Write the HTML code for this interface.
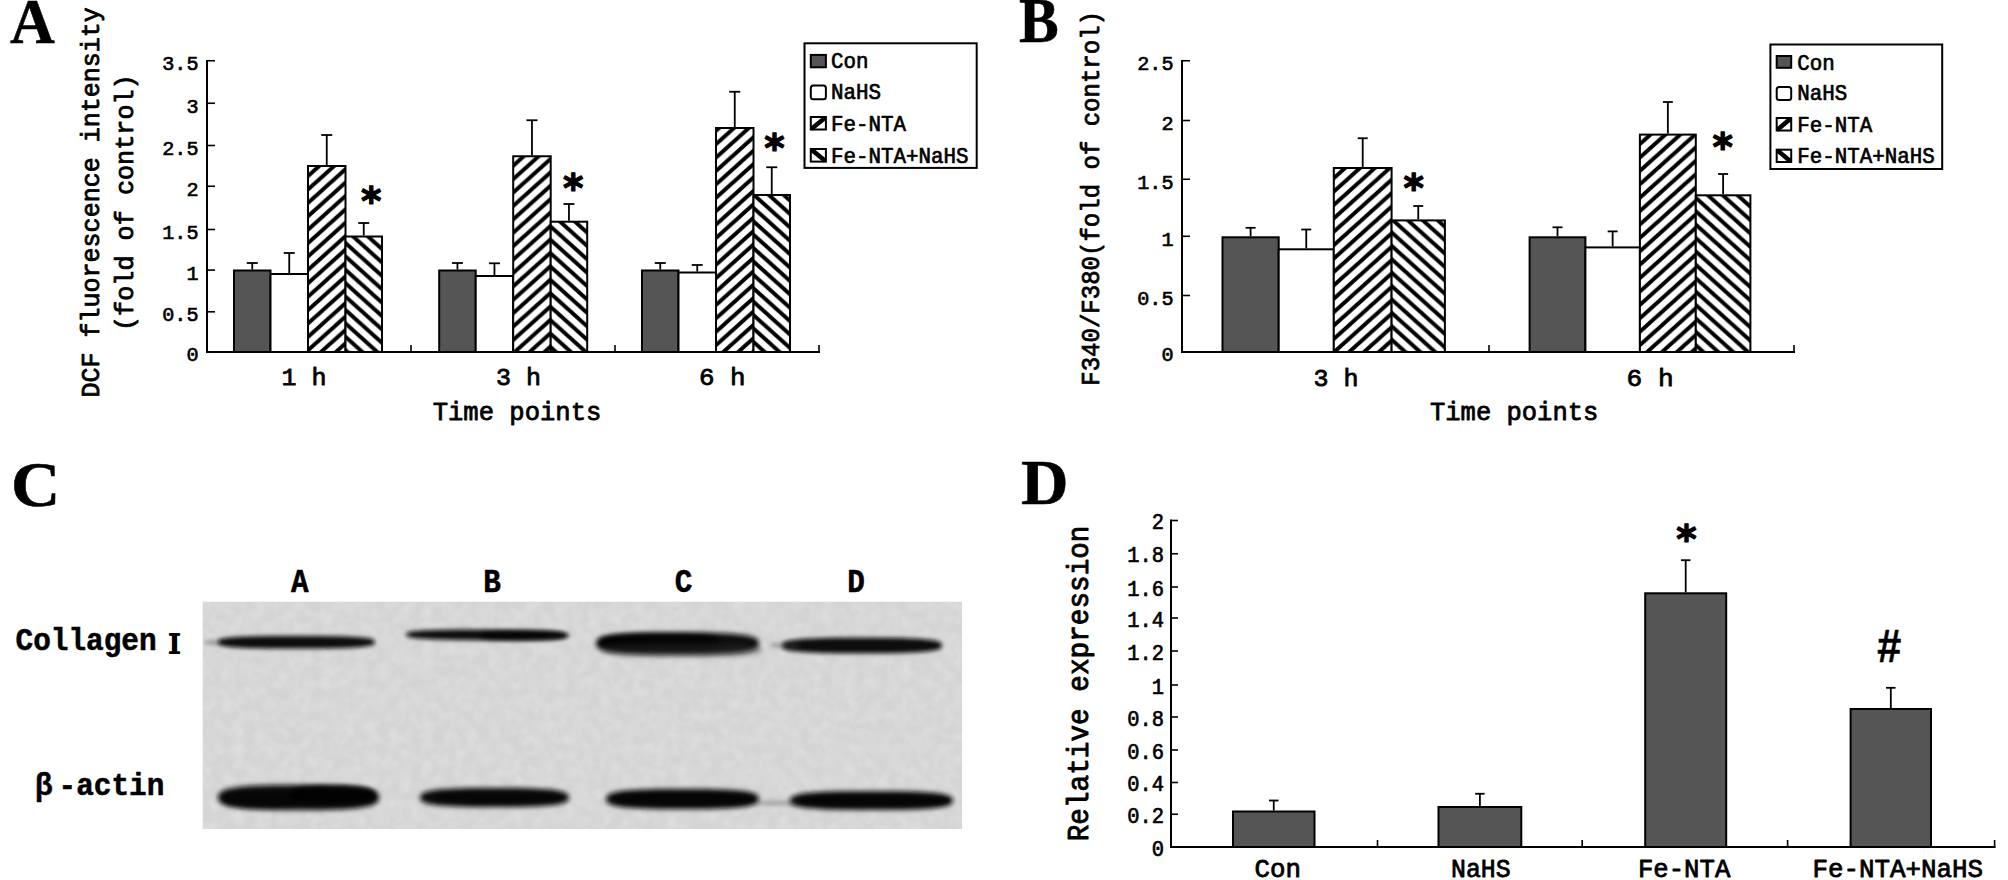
<!DOCTYPE html>
<html lang="en"><head><meta charset="utf-8"><title>Figure</title>
<style>html,body{margin:0;padding:0;background:#fff;overflow:hidden}svg{display:block}text{fill:#000;stroke:#000;stroke-width:0.5px;stroke-linejoin:round}</style>
</head><body>
<svg width="2008" height="880" viewBox="0 0 2008 880">
<defs>
<pattern id="h1" patternUnits="userSpaceOnUse" width="14.9" height="13.4" x="3" y="8.2"><rect width="14.9" height="13.4" fill="#fff"/><path d="M-14.9,26.8 L29.8,-13.4 M-29.8,26.8 L14.9,-13.4 M0,26.8 L44.7,-13.4" stroke="#000" stroke-width="4.0"/></pattern>
<pattern id="h2" patternUnits="userSpaceOnUse" width="14.9" height="13.4" x="3" y="2"><rect width="14.9" height="13.4" fill="#fff"/><path d="M-14.9,-13.4 L29.8,26.8 M-29.8,-13.4 L14.9,26.8 M0,-13.4 L44.7,26.8" stroke="#000" stroke-width="4.0"/></pattern>
<filter id="bl3" x="-20%" y="-100%" width="140%" height="300%"><feGaussianBlur stdDeviation="2.6"/></filter>
<filter id="bl2" x="-20%" y="-100%" width="140%" height="300%"><feGaussianBlur stdDeviation="1.9"/></filter>
<filter id="noise" x="0" y="0" width="100%" height="100%"><feTurbulence type="fractalNoise" baseFrequency="0.09" numOctaves="2" seed="7" result="n"/><feColorMatrix in="n" type="matrix" values="0 0 0 0 0.83  0 0 0 0 0.83  0 0 0 0 0.83  0.55 0.55 0 0 -0.42" result="m"/><feComposite in="m" in2="SourceGraphic" operator="in"/></filter>
<clipPath id="blotclip"><rect x="202.5" y="601.5" width="759.5" height="227.5"/></clipPath>
</defs>
<rect width="2008" height="880" fill="#fff"/>
<text transform="translate(10.00,42.50) scale(1,1.0219)" font-family='"Liberation Serif", "DejaVu Serif", serif' font-size="62.00" font-weight="bold" text-anchor="start" >A</text>
<text transform="translate(1019.00,42.00) scale(0.96,1.0096)" font-family='"Liberation Serif", "DejaVu Serif", serif' font-size="62.00" font-weight="bold" text-anchor="start" >B</text>
<text transform="translate(11.00,506.00) scale(1.1,1.0219)" font-family='"Liberation Serif", "DejaVu Serif", serif' font-size="62.00" font-weight="bold" text-anchor="start" >C</text>
<text transform="translate(1021.00,503.50) scale(1.06,1.0096)" font-family='"Liberation Serif", "DejaVu Serif", serif' font-size="62.00" font-weight="bold" text-anchor="start" >D</text>
<line x1="207.00" y1="60.00" x2="207.00" y2="353.00" stroke="#000" stroke-width="2"/>
<line x1="206.00" y1="352.00" x2="820.00" y2="352.00" stroke="#000" stroke-width="2"/>
<line x1="207.00" y1="351.90" x2="215.00" y2="351.90" stroke="#000" stroke-width="1.6"/>
<line x1="207.00" y1="311.80" x2="215.00" y2="311.80" stroke="#000" stroke-width="1.6"/>
<line x1="207.00" y1="270.10" x2="215.00" y2="270.10" stroke="#000" stroke-width="1.6"/>
<line x1="207.00" y1="229.50" x2="215.00" y2="229.50" stroke="#000" stroke-width="1.6"/>
<line x1="207.00" y1="186.25" x2="215.00" y2="186.25" stroke="#000" stroke-width="1.6"/>
<line x1="207.00" y1="145.50" x2="215.00" y2="145.50" stroke="#000" stroke-width="1.6"/>
<line x1="207.00" y1="103.25" x2="215.00" y2="103.25" stroke="#000" stroke-width="1.6"/>
<line x1="207.00" y1="60.75" x2="215.00" y2="60.75" stroke="#000" stroke-width="1.6"/>
<line x1="411.00" y1="352.00" x2="411.00" y2="345.00" stroke="#000" stroke-width="1.6"/>
<line x1="615.00" y1="352.00" x2="615.00" y2="345.00" stroke="#000" stroke-width="1.6"/>
<line x1="819.00" y1="352.00" x2="819.00" y2="345.00" stroke="#000" stroke-width="1.6"/>
<text transform="translate(198.50,361.40) scale(1,1.0218)" font-family='"Liberation Mono", "DejaVu Sans Mono", monospace' font-size="20.17" font-weight="normal" text-anchor="end"  style="stroke-width:0.63px">0</text>
<text transform="translate(198.50,321.30) scale(1,1.0218)" font-family='"Liberation Mono", "DejaVu Sans Mono", monospace' font-size="20.17" font-weight="normal" text-anchor="end"  style="stroke-width:0.63px">0.5</text>
<text transform="translate(198.50,279.60) scale(1,1.0218)" font-family='"Liberation Mono", "DejaVu Sans Mono", monospace' font-size="20.17" font-weight="normal" text-anchor="end"  style="stroke-width:0.63px">1</text>
<text transform="translate(198.50,239.00) scale(1,1.0218)" font-family='"Liberation Mono", "DejaVu Sans Mono", monospace' font-size="20.17" font-weight="normal" text-anchor="end"  style="stroke-width:0.63px">1.5</text>
<text transform="translate(198.50,195.75) scale(1,1.0218)" font-family='"Liberation Mono", "DejaVu Sans Mono", monospace' font-size="20.17" font-weight="normal" text-anchor="end"  style="stroke-width:0.63px">2</text>
<text transform="translate(198.50,155.00) scale(1,1.0218)" font-family='"Liberation Mono", "DejaVu Sans Mono", monospace' font-size="20.17" font-weight="normal" text-anchor="end"  style="stroke-width:0.63px">2.5</text>
<text transform="translate(198.50,112.75) scale(1,1.0218)" font-family='"Liberation Mono", "DejaVu Sans Mono", monospace' font-size="20.17" font-weight="normal" text-anchor="end"  style="stroke-width:0.63px">3</text>
<text transform="translate(198.50,70.25) scale(1,1.0218)" font-family='"Liberation Mono", "DejaVu Sans Mono", monospace' font-size="20.17" font-weight="normal" text-anchor="end"  style="stroke-width:0.63px">3.5</text>
<line x1="252.25" y1="263.00" x2="252.25" y2="269.50" stroke="#000" stroke-width="1.8"/>
<line x1="246.75" y1="263.00" x2="257.75" y2="263.00" stroke="#000" stroke-width="1.8"/>
<rect x="234.00" y="270.50" width="36.50" height="81.50" fill="#555555" stroke="#000" stroke-width="2"/>
<line x1="289.25" y1="253.00" x2="289.25" y2="273.00" stroke="#000" stroke-width="1.8"/>
<line x1="283.75" y1="253.00" x2="294.75" y2="253.00" stroke="#000" stroke-width="1.8"/>
<rect x="270.50" y="274.00" width="37.50" height="78.00" fill="#ffffff" stroke="#000" stroke-width="2"/>
<line x1="326.75" y1="135.00" x2="326.75" y2="165.00" stroke="#000" stroke-width="1.8"/>
<line x1="321.25" y1="135.00" x2="332.25" y2="135.00" stroke="#000" stroke-width="1.8"/>
<rect x="308.00" y="166.00" width="37.50" height="186.00" fill="url(#h1)" stroke="#000" stroke-width="2"/>
<line x1="363.75" y1="223.00" x2="363.75" y2="235.50" stroke="#000" stroke-width="1.8"/>
<line x1="358.25" y1="223.00" x2="369.25" y2="223.00" stroke="#000" stroke-width="1.8"/>
<rect x="345.50" y="236.50" width="36.50" height="115.50" fill="url(#h2)" stroke="#000" stroke-width="2"/>
<line x1="457.45" y1="263.00" x2="457.45" y2="269.50" stroke="#000" stroke-width="1.8"/>
<line x1="451.95" y1="263.00" x2="462.95" y2="263.00" stroke="#000" stroke-width="1.8"/>
<rect x="439.20" y="270.50" width="36.50" height="81.50" fill="#555555" stroke="#000" stroke-width="2"/>
<line x1="494.45" y1="263.30" x2="494.45" y2="275.00" stroke="#000" stroke-width="1.8"/>
<line x1="488.95" y1="263.30" x2="499.95" y2="263.30" stroke="#000" stroke-width="1.8"/>
<rect x="475.70" y="276.00" width="37.50" height="76.00" fill="#ffffff" stroke="#000" stroke-width="2"/>
<line x1="531.95" y1="120.25" x2="531.95" y2="155.25" stroke="#000" stroke-width="1.8"/>
<line x1="526.45" y1="120.25" x2="537.45" y2="120.25" stroke="#000" stroke-width="1.8"/>
<rect x="513.20" y="156.25" width="37.50" height="195.75" fill="url(#h1)" stroke="#000" stroke-width="2"/>
<line x1="568.95" y1="204.00" x2="568.95" y2="220.70" stroke="#000" stroke-width="1.8"/>
<line x1="563.45" y1="204.00" x2="574.45" y2="204.00" stroke="#000" stroke-width="1.8"/>
<rect x="550.70" y="221.70" width="36.50" height="130.30" fill="url(#h2)" stroke="#000" stroke-width="2"/>
<line x1="660.25" y1="263.00" x2="660.25" y2="269.50" stroke="#000" stroke-width="1.8"/>
<line x1="654.75" y1="263.00" x2="665.75" y2="263.00" stroke="#000" stroke-width="1.8"/>
<rect x="642.00" y="270.50" width="36.50" height="81.50" fill="#555555" stroke="#000" stroke-width="2"/>
<line x1="697.25" y1="265.00" x2="697.25" y2="271.50" stroke="#000" stroke-width="1.8"/>
<line x1="691.75" y1="265.00" x2="702.75" y2="265.00" stroke="#000" stroke-width="1.8"/>
<rect x="678.50" y="272.50" width="37.50" height="79.50" fill="#ffffff" stroke="#000" stroke-width="2"/>
<line x1="734.75" y1="91.75" x2="734.75" y2="127.00" stroke="#000" stroke-width="1.8"/>
<line x1="729.25" y1="91.75" x2="740.25" y2="91.75" stroke="#000" stroke-width="1.8"/>
<rect x="716.00" y="128.00" width="37.50" height="224.00" fill="url(#h1)" stroke="#000" stroke-width="2"/>
<line x1="771.75" y1="167.25" x2="771.75" y2="194.00" stroke="#000" stroke-width="1.8"/>
<line x1="766.25" y1="167.25" x2="777.25" y2="167.25" stroke="#000" stroke-width="1.8"/>
<rect x="753.50" y="195.00" width="36.50" height="157.00" fill="url(#h2)" stroke="#000" stroke-width="2"/>
<text x="371.30" y="214.50" font-family='"DejaVu Sans", "Liberation Sans", sans-serif' font-size="39" font-weight="bold" text-anchor="middle" style="stroke-width:1.2px">*</text>
<text x="573.30" y="201.50" font-family='"DejaVu Sans", "Liberation Sans", sans-serif' font-size="39" font-weight="bold" text-anchor="middle" style="stroke-width:1.2px">*</text>
<text x="774.50" y="161.50" font-family='"DejaVu Sans", "Liberation Sans", sans-serif' font-size="39" font-weight="bold" text-anchor="middle" style="stroke-width:1.2px">*</text>
<text transform="translate(281.50,385.00) scale(1,0.9697)" font-family='"Liberation Mono", "DejaVu Sans Mono", monospace' font-size="25.00" font-weight="normal" text-anchor="start" xml:space="preserve" style="stroke-width:0.78px">1 h</text>
<text transform="translate(496.00,385.00) scale(1,0.9697)" font-family='"Liberation Mono", "DejaVu Sans Mono", monospace' font-size="25.00" font-weight="normal" text-anchor="start" xml:space="preserve" style="stroke-width:0.78px">3 h</text>
<text transform="translate(699.00,385.00) scale(1,0.9384)" font-family='"Liberation Mono", "DejaVu Sans Mono", monospace' font-size="25.83" font-weight="normal" text-anchor="start" xml:space="preserve" style="stroke-width:0.80px">6 h</text>
<text transform="translate(432.70,419.50) scale(1,0.9785)" font-family='"Liberation Mono", "DejaVu Sans Mono", monospace' font-size="25.55" font-weight="normal" text-anchor="start"  style="stroke-width:0.79px">Time points</text>
<text transform="translate(98.75,397.50) rotate(-90) scale(1,1.0592)" font-family='"Liberation Mono", "DejaVu Sans Mono", monospace' font-size="25.03" font-weight="normal" text-anchor="start"  style="stroke-width:0.78px">DCF fluorescence intensity</text>
<text transform="translate(132.50,331.00) rotate(-90) scale(1,1.0536)" font-family='"Liberation Mono", "DejaVu Sans Mono", monospace' font-size="25.17" font-weight="normal" text-anchor="start"  style="stroke-width:0.78px">(fold of control)</text>
<rect x="804.50" y="43.30" width="172.20" height="124.60" fill="#fff" stroke="#000" stroke-width="2"/>
<rect x="810.80" y="54.90" width="15.10" height="12.40" rx="0" fill="#555555" stroke="#000" stroke-width="2"/>
<text transform="translate(831.00,68.30) scale(1,1.0400)" font-family='"Liberation Mono", "DejaVu Sans Mono", monospace' font-size="20.83" font-weight="normal" text-anchor="start"  style="stroke-width:0.65px">Con</text>
<rect x="810.80" y="85.50" width="15.10" height="13.70" rx="2.5" fill="#ffffff" stroke="#000" stroke-width="2"/>
<text transform="translate(831.00,99.20) scale(1,1.0400)" font-family='"Liberation Mono", "DejaVu Sans Mono", monospace' font-size="20.83" font-weight="normal" text-anchor="start"  style="stroke-width:0.65px">NaHS</text>
<rect x="810.80" y="117.00" width="15.10" height="12.50" rx="0" fill="#fff" stroke="#000" stroke-width="2"/>
<path d="M811.30,129.00 L825.40,117.50" stroke="#000" stroke-width="4.5"/>
<text transform="translate(831.00,130.50) scale(1,1.0400)" font-family='"Liberation Mono", "DejaVu Sans Mono", monospace' font-size="20.83" font-weight="normal" text-anchor="start"  style="stroke-width:0.65px">Fe-NTA</text>
<rect x="810.80" y="149.00" width="15.10" height="12.60" rx="0" fill="#fff" stroke="#000" stroke-width="2"/>
<path d="M811.30,149.50 L825.40,161.10" stroke="#000" stroke-width="4.5"/>
<text transform="translate(831.00,162.60) scale(1,1.0400)" font-family='"Liberation Mono", "DejaVu Sans Mono", monospace' font-size="20.83" font-weight="normal" text-anchor="start"  style="stroke-width:0.65px">Fe-NTA+NaHS</text>
<line x1="1182.00" y1="60.00" x2="1182.00" y2="353.00" stroke="#000" stroke-width="2"/>
<line x1="1181.00" y1="352.00" x2="1795.00" y2="352.00" stroke="#000" stroke-width="2"/>
<line x1="1182.00" y1="351.90" x2="1190.00" y2="351.90" stroke="#000" stroke-width="1.6"/>
<line x1="1182.00" y1="295.50" x2="1190.00" y2="295.50" stroke="#000" stroke-width="1.6"/>
<line x1="1182.00" y1="236.30" x2="1190.00" y2="236.30" stroke="#000" stroke-width="1.6"/>
<line x1="1182.00" y1="179.25" x2="1190.00" y2="179.25" stroke="#000" stroke-width="1.6"/>
<line x1="1182.00" y1="120.50" x2="1190.00" y2="120.50" stroke="#000" stroke-width="1.6"/>
<line x1="1182.00" y1="60.75" x2="1190.00" y2="60.75" stroke="#000" stroke-width="1.6"/>
<line x1="1489.00" y1="352.00" x2="1489.00" y2="345.00" stroke="#000" stroke-width="1.6"/>
<line x1="1794.00" y1="352.00" x2="1794.00" y2="345.00" stroke="#000" stroke-width="1.6"/>
<text transform="translate(1173.50,361.40) scale(1,1.0218)" font-family='"Liberation Mono", "DejaVu Sans Mono", monospace' font-size="20.17" font-weight="normal" text-anchor="end"  style="stroke-width:0.63px">0</text>
<text transform="translate(1173.50,305.00) scale(1,1.0218)" font-family='"Liberation Mono", "DejaVu Sans Mono", monospace' font-size="20.17" font-weight="normal" text-anchor="end"  style="stroke-width:0.63px">0.5</text>
<text transform="translate(1173.50,245.80) scale(1,1.0218)" font-family='"Liberation Mono", "DejaVu Sans Mono", monospace' font-size="20.17" font-weight="normal" text-anchor="end"  style="stroke-width:0.63px">1</text>
<text transform="translate(1173.50,188.75) scale(1,1.0218)" font-family='"Liberation Mono", "DejaVu Sans Mono", monospace' font-size="20.17" font-weight="normal" text-anchor="end"  style="stroke-width:0.63px">1.5</text>
<text transform="translate(1173.50,130.00) scale(1,1.0218)" font-family='"Liberation Mono", "DejaVu Sans Mono", monospace' font-size="20.17" font-weight="normal" text-anchor="end"  style="stroke-width:0.63px">2</text>
<text transform="translate(1173.50,70.25) scale(1,1.0218)" font-family='"Liberation Mono", "DejaVu Sans Mono", monospace' font-size="20.17" font-weight="normal" text-anchor="end"  style="stroke-width:0.63px">2.5</text>
<line x1="1250.60" y1="227.80" x2="1250.60" y2="236.30" stroke="#000" stroke-width="1.8"/>
<line x1="1245.60" y1="227.80" x2="1255.60" y2="227.80" stroke="#000" stroke-width="1.8"/>
<rect x="1222.50" y="237.30" width="56.20" height="114.70" fill="#555555" stroke="#000" stroke-width="2"/>
<line x1="1306.25" y1="229.50" x2="1306.25" y2="248.30" stroke="#000" stroke-width="1.8"/>
<line x1="1301.25" y1="229.50" x2="1311.25" y2="229.50" stroke="#000" stroke-width="1.8"/>
<rect x="1278.70" y="249.30" width="55.10" height="102.70" fill="#ffffff" stroke="#000" stroke-width="2"/>
<line x1="1362.70" y1="138.25" x2="1362.70" y2="167.00" stroke="#000" stroke-width="1.8"/>
<line x1="1357.70" y1="138.25" x2="1367.70" y2="138.25" stroke="#000" stroke-width="1.8"/>
<rect x="1333.80" y="168.00" width="57.80" height="184.00" fill="url(#h1)" stroke="#000" stroke-width="2"/>
<line x1="1418.25" y1="206.00" x2="1418.25" y2="219.40" stroke="#000" stroke-width="1.8"/>
<line x1="1413.25" y1="206.00" x2="1423.25" y2="206.00" stroke="#000" stroke-width="1.8"/>
<rect x="1391.60" y="220.40" width="53.30" height="131.60" fill="url(#h2)" stroke="#000" stroke-width="2"/>
<line x1="1557.50" y1="227.30" x2="1557.50" y2="236.30" stroke="#000" stroke-width="1.8"/>
<line x1="1552.50" y1="227.30" x2="1562.50" y2="227.30" stroke="#000" stroke-width="1.8"/>
<rect x="1529.60" y="237.30" width="55.80" height="114.70" fill="#555555" stroke="#000" stroke-width="2"/>
<line x1="1612.65" y1="231.40" x2="1612.65" y2="246.40" stroke="#000" stroke-width="1.8"/>
<line x1="1607.65" y1="231.40" x2="1617.65" y2="231.40" stroke="#000" stroke-width="1.8"/>
<rect x="1585.40" y="247.40" width="54.50" height="104.60" fill="#ffffff" stroke="#000" stroke-width="2"/>
<line x1="1667.85" y1="102.00" x2="1667.85" y2="133.60" stroke="#000" stroke-width="1.8"/>
<line x1="1662.85" y1="102.00" x2="1672.85" y2="102.00" stroke="#000" stroke-width="1.8"/>
<rect x="1639.90" y="134.60" width="55.90" height="217.40" fill="url(#h1)" stroke="#000" stroke-width="2"/>
<line x1="1723.10" y1="174.00" x2="1723.10" y2="194.30" stroke="#000" stroke-width="1.8"/>
<line x1="1718.10" y1="174.00" x2="1728.10" y2="174.00" stroke="#000" stroke-width="1.8"/>
<rect x="1695.80" y="195.30" width="54.60" height="156.70" fill="url(#h2)" stroke="#000" stroke-width="2"/>
<text x="1413.75" y="201.50" font-family='"DejaVu Sans", "Liberation Sans", sans-serif' font-size="39" font-weight="bold" text-anchor="middle" style="stroke-width:1.2px">*</text>
<text x="1722.60" y="161.20" font-family='"DejaVu Sans", "Liberation Sans", sans-serif' font-size="39" font-weight="bold" text-anchor="middle" style="stroke-width:1.2px">*</text>
<text transform="translate(1313.60,385.50) scale(1,0.9697)" font-family='"Liberation Mono", "DejaVu Sans Mono", monospace' font-size="25.00" font-weight="normal" text-anchor="start" xml:space="preserve" style="stroke-width:0.78px">3 h</text>
<text transform="translate(1626.50,386.00) scale(1,0.9265)" font-family='"Liberation Mono", "DejaVu Sans Mono", monospace' font-size="26.17" font-weight="normal" text-anchor="start" xml:space="preserve" style="stroke-width:0.81px">6 h</text>
<text transform="translate(1430.00,420.00) scale(1,0.9804)" font-family='"Liberation Mono", "DejaVu Sans Mono", monospace' font-size="25.50" font-weight="normal" text-anchor="start"  style="stroke-width:0.79px">Time points</text>
<text transform="translate(1098.50,385.70) rotate(-90) scale(1,1.0717)" font-family='"Liberation Mono", "DejaVu Sans Mono", monospace' font-size="24.03" font-weight="normal" text-anchor="start"  style="stroke-width:0.75px">F340/F380(fold of control)</text>
<rect x="1770.40" y="44.50" width="171.80" height="124.50" fill="#fff" stroke="#000" stroke-width="2"/>
<rect x="1776.70" y="56.00" width="14.50" height="11.80" rx="0" fill="#555555" stroke="#000" stroke-width="2"/>
<text transform="translate(1797.20,69.60) scale(1,1.0400)" font-family='"Liberation Mono", "DejaVu Sans Mono", monospace' font-size="20.83" font-weight="normal" text-anchor="start"  style="stroke-width:0.65px">Con</text>
<rect x="1776.70" y="87.00" width="14.50" height="13.00" rx="2.5" fill="#ffffff" stroke="#000" stroke-width="2"/>
<text transform="translate(1797.20,100.00) scale(1,1.0400)" font-family='"Liberation Mono", "DejaVu Sans Mono", monospace' font-size="20.83" font-weight="normal" text-anchor="start"  style="stroke-width:0.65px">NaHS</text>
<rect x="1776.70" y="118.00" width="14.50" height="12.50" rx="0" fill="#fff" stroke="#000" stroke-width="2"/>
<path d="M1777.20,130.00 L1790.70,118.50" stroke="#000" stroke-width="4.5"/>
<text transform="translate(1797.20,131.50) scale(1,1.0400)" font-family='"Liberation Mono", "DejaVu Sans Mono", monospace' font-size="20.83" font-weight="normal" text-anchor="start"  style="stroke-width:0.65px">Fe-NTA</text>
<rect x="1776.70" y="149.70" width="14.50" height="12.30" rx="0" fill="#fff" stroke="#000" stroke-width="2"/>
<path d="M1777.20,150.20 L1790.70,161.50" stroke="#000" stroke-width="4.5"/>
<text transform="translate(1797.20,163.00) scale(1,1.0400)" font-family='"Liberation Mono", "DejaVu Sans Mono", monospace' font-size="20.83" font-weight="normal" text-anchor="start"  style="stroke-width:0.65px">Fe-NTA+NaHS</text>
<g clip-path="url(#blotclip)">
<rect x="202.5" y="601.5" width="759.5" height="227.5" fill="#d4d4d4"/>
<rect x="202.5" y="601.5" width="759.5" height="227.5" fill="#fff" filter="url(#noise)"/>
<polygon points="300.0,642.5 299.5,643.3 298.1,643.7 295.6,644.1 292.2,644.4 287.8,644.6 282.2,644.8 275.5,644.9 266.9,645.0 252.0,645.0 237.1,645.0 228.5,644.9 221.8,644.8 216.2,644.6 211.8,644.4 208.4,644.1 205.9,643.7 204.5,643.3 204.0,642.5 204.5,641.7 205.9,641.3 208.4,640.9 211.8,640.6 216.2,640.4 221.8,640.2 228.5,640.1 237.1,640.0 252.0,640.0 266.9,640.0 275.5,640.1 282.2,640.2 287.8,640.4 292.2,640.6 295.6,640.9 298.1,641.3 299.5,641.7" fill="#444" opacity="0.5" filter="url(#bl2)"/>
<polygon points="375.0,642.2 374.2,644.1 371.8,645.3 367.8,646.1 362.2,646.9 355.0,647.4 346.0,647.9 334.9,648.2 320.9,648.4 296.5,648.5 272.1,648.4 258.1,648.2 247.0,647.9 238.0,647.4 230.8,646.9 225.2,646.1 221.2,645.3 218.8,644.1 218.0,642.2 218.8,640.3 221.2,639.1 225.2,638.3 230.8,637.5 238.0,637.0 247.0,636.5 258.1,636.2 272.1,636.0 296.5,636.0 320.9,636.0 334.9,636.2 346.0,636.5 355.0,637.0 362.2,637.5 367.8,638.3 371.8,639.1 374.2,640.3" fill="#101010" opacity="1" filter="url(#bl2)"/>
<polygon points="569.0,635.5 568.2,637.1 565.7,638.0 561.5,638.8 555.7,639.3 548.2,639.8 538.8,640.1 527.4,640.3 512.9,640.4 487.5,640.3 462.1,640.0 447.6,639.8 436.2,639.5 426.8,639.0 419.3,638.5 413.5,637.9 409.3,637.1 406.8,636.1 406.0,634.5 406.8,632.9 409.3,632.0 413.5,631.2 419.3,630.7 426.8,630.2 436.2,629.9 447.6,629.7 462.1,629.6 487.5,629.7 512.9,630.0 527.4,630.2 538.8,630.5 548.2,631.0 555.7,631.5 561.5,632.1 565.7,632.9 568.2,633.9" fill="#101010" opacity="1" filter="url(#bl2)"/>
<polygon points="565.0,635.5 564.6,636.9 563.3,637.7 561.1,638.3 558.1,638.9 554.2,639.3 549.3,639.6 543.3,639.8 535.7,640.0 522.5,640.0 509.3,640.0 501.7,639.8 495.7,639.6 490.8,639.3 486.9,638.9 483.9,638.3 481.7,637.7 480.4,636.9 480.0,635.5 480.4,634.1 481.7,633.3 483.9,632.7 486.9,632.1 490.8,631.7 495.7,631.4 501.7,631.2 509.3,631.0 522.5,631.0 535.7,631.0 543.3,631.2 549.3,631.4 554.2,631.7 558.1,632.1 561.1,632.7 563.3,633.3 564.6,634.1" fill="#000" opacity="0.6" filter="url(#bl2)"/>
<polygon points="759.0,643.5 758.2,646.9 755.7,648.9 751.5,650.4 745.7,651.7 738.2,652.7 728.8,653.5 717.4,654.1 702.9,654.4 677.5,654.5 652.1,654.4 637.6,654.1 626.2,653.5 616.8,652.7 609.3,651.7 603.5,650.4 599.3,648.9 596.8,646.9 596.0,643.5 596.8,640.1 599.3,638.1 603.5,636.6 609.3,635.3 616.8,634.3 626.2,633.5 637.6,632.9 652.1,632.6 677.5,632.5 702.9,632.6 717.4,632.9 728.8,633.5 738.2,634.3 745.7,635.3 751.5,636.6 755.7,638.1 758.2,640.1" fill="#101010" opacity="1" filter="url(#bl3)"/>
<polygon points="720.0,642.0 719.4,644.5 717.6,645.9 714.5,647.0 710.2,648.0 704.7,648.7 697.8,649.3 689.3,649.7 678.7,649.9 660.0,650.0 641.3,649.9 630.7,649.7 622.2,649.3 615.3,648.7 609.8,648.0 605.5,647.0 602.4,645.9 600.6,644.5 600.0,642.0 600.6,639.5 602.4,638.1 605.5,637.0 609.8,636.0 615.3,635.3 622.2,634.7 630.7,634.3 641.3,634.1 660.0,634.0 678.7,634.1 689.3,634.3 697.8,634.7 704.7,635.3 710.2,636.0 714.5,637.0 717.6,638.1 719.4,639.5" fill="#000" opacity="0.7" filter="url(#bl2)"/>
<polygon points="762.0,650.0 761.2,652.2 758.8,653.4 754.7,654.4 749.0,655.2 741.6,655.9 732.4,656.4 721.1,656.7 706.9,656.9 682.0,657.0 657.1,656.9 642.9,656.7 631.6,656.4 622.4,655.9 615.0,655.2 609.3,654.4 605.2,653.4 602.8,652.2 602.0,650.0 602.8,647.8 605.2,646.6 609.3,645.6 615.0,644.8 622.4,644.1 631.6,643.6 642.9,643.3 657.1,643.1 682.0,643.0 706.9,643.1 721.1,643.3 732.4,643.6 741.6,644.1 749.0,644.8 754.7,645.6 758.8,646.6 761.2,647.8" fill="#333" opacity="0.35" filter="url(#bl3)"/>
<polygon points="942.0,645.5 941.2,647.9 938.8,649.3 934.7,650.4 929.0,651.3 921.6,652.0 912.4,652.5 901.1,652.9 886.9,653.2 862.0,653.2 837.1,653.2 822.9,652.9 811.6,652.5 802.4,652.0 795.0,651.3 789.3,650.4 785.2,649.3 782.8,647.9 782.0,645.5 782.8,643.1 785.2,641.7 789.3,640.6 795.0,639.7 802.4,639.0 811.6,638.5 822.9,638.1 837.1,637.8 862.0,637.8 886.9,637.8 901.1,638.1 912.4,638.5 921.6,639.0 929.0,639.7 934.7,640.6 938.8,641.7 941.2,643.1" fill="#101010" opacity="1" filter="url(#bl2)"/>
<polygon points="800.0,645.5 799.8,646.3 799.4,646.7 798.6,647.1 797.6,647.4 796.2,647.6 794.4,647.8 792.3,647.9 789.7,648.0 785.0,648.0 780.3,648.0 777.7,647.9 775.6,647.8 773.8,647.6 772.4,647.4 771.4,647.1 770.6,646.7 770.2,646.3 770.0,645.5 770.2,644.7 770.6,644.3 771.4,643.9 772.4,643.6 773.8,643.4 775.6,643.2 777.7,643.1 780.3,643.0 785.0,643.0 789.7,643.0 792.3,643.1 794.4,643.2 796.2,643.4 797.6,643.6 798.6,643.9 799.4,644.3 799.8,644.7" fill="#444" opacity="0.4" filter="url(#bl2)"/>
<polygon points="379.0,797.5 378.2,801.4 375.7,803.6 371.6,805.4 365.9,806.8 358.5,808.0 349.2,808.9 337.9,809.5 323.6,809.9 298.5,810.0 273.4,809.9 259.1,809.5 247.8,808.9 238.5,808.0 231.1,806.8 225.4,805.4 221.3,803.6 218.8,801.4 218.0,797.5 218.8,793.6 221.3,791.4 225.4,789.6 231.1,788.2 238.5,787.0 247.8,786.1 259.1,785.5 273.4,785.1 298.5,785.0 323.6,785.1 337.9,785.5 349.2,786.1 358.5,787.0 365.9,788.2 371.6,789.6 375.7,791.4 378.2,793.6" fill="#101010" opacity="1" filter="url(#bl3)"/>
<polygon points="375.0,795.0 374.6,797.8 373.3,799.4 371.1,800.7 368.1,801.7 364.2,802.5 359.3,803.2 353.3,803.6 345.7,803.9 332.5,804.0 319.3,803.9 311.7,803.6 305.7,803.2 300.8,802.5 296.9,801.7 293.9,800.7 291.7,799.4 290.4,797.8 290.0,795.0 290.4,792.2 291.7,790.6 293.9,789.3 296.9,788.3 300.8,787.5 305.7,786.8 311.7,786.4 319.3,786.1 332.5,786.0 345.7,786.1 353.3,786.4 359.3,786.8 364.2,787.5 368.1,788.3 371.1,789.3 373.3,790.6 374.6,792.2" fill="#000" opacity="0.8" filter="url(#bl2)"/>
<polygon points="300.0,799.0 299.6,801.3 298.5,802.7 296.5,803.7 293.8,804.6 290.3,805.3 285.9,805.8 280.6,806.2 273.8,806.4 262.0,806.5 250.2,806.4 243.4,806.2 238.1,805.8 233.7,805.3 230.2,804.6 227.5,803.7 225.5,802.7 224.4,801.3 224.0,799.0 224.4,796.7 225.5,795.3 227.5,794.3 230.2,793.4 233.7,792.7 238.1,792.2 243.4,791.8 250.2,791.6 262.0,791.5 273.8,791.6 280.6,791.8 285.9,792.2 290.3,792.7 293.8,793.4 296.5,794.3 298.5,795.3 299.6,796.7" fill="#000" opacity="0.5" filter="url(#bl2)"/>
<polygon points="569.0,797.5 568.2,800.5 566.0,802.1 562.2,803.5 556.9,804.6 550.0,805.5 541.4,806.1 530.9,806.6 517.7,806.9 494.5,807.0 471.3,806.9 458.1,806.6 447.6,806.1 439.0,805.5 432.1,804.6 426.8,803.5 423.0,802.1 420.8,800.5 420.0,797.5 420.8,794.5 423.0,792.9 426.8,791.5 432.1,790.4 439.0,789.5 447.6,788.9 458.1,788.4 471.3,788.1 494.5,788.0 517.7,788.1 530.9,788.4 541.4,788.9 550.0,789.5 556.9,790.4 562.2,791.5 566.0,792.9 568.2,794.5" fill="#101010" opacity="1" filter="url(#bl3)"/>
<polygon points="560.0,797.5 559.4,799.2 557.4,800.2 554.1,801.0 549.6,801.6 543.7,802.1 536.3,802.5 527.3,802.8 515.9,802.9 496.0,803.0 476.1,802.9 464.7,802.8 455.7,802.5 448.3,802.1 442.4,801.6 437.9,801.0 434.6,800.2 432.6,799.2 432.0,797.5 432.6,795.8 434.6,794.8 437.9,794.0 442.4,793.4 448.3,792.9 455.7,792.5 464.7,792.2 476.1,792.1 496.0,792.0 515.9,792.1 527.3,792.2 536.3,792.5 543.7,792.9 549.6,793.4 554.1,794.0 557.4,794.8 559.4,795.8" fill="#000" opacity="0.5" filter="url(#bl2)"/>
<polygon points="759.0,799.0 758.2,802.1 755.9,803.9 752.0,805.3 746.5,806.4 739.5,807.4 730.7,808.1 719.9,808.6 706.3,808.9 682.5,809.0 658.7,808.9 645.1,808.6 634.3,808.1 625.5,807.4 618.5,806.4 613.0,805.3 609.1,803.9 606.8,802.1 606.0,799.0 606.8,795.9 609.1,794.1 613.0,792.7 618.5,791.6 625.5,790.6 634.3,789.9 645.1,789.4 658.7,789.1 682.5,789.0 706.3,789.1 719.9,789.4 730.7,789.9 739.5,790.6 746.5,791.6 752.0,792.7 755.9,794.1 758.2,795.9" fill="#101010" opacity="1" filter="url(#bl3)"/>
<polygon points="753.0,799.0 752.3,800.9 750.2,801.9 746.6,802.8 741.7,803.5 735.3,804.0 727.3,804.5 717.5,804.8 705.1,804.9 683.5,805.0 661.9,804.9 649.5,804.8 639.7,804.5 631.7,804.0 625.3,803.5 620.4,802.8 616.8,801.9 614.7,800.9 614.0,799.0 614.7,797.1 616.8,796.1 620.4,795.2 625.3,794.5 631.7,794.0 639.7,793.5 649.5,793.2 661.9,793.1 683.5,793.0 705.1,793.1 717.5,793.2 727.3,793.5 735.3,794.0 741.7,794.5 746.6,795.2 750.2,796.1 752.3,797.1" fill="#000" opacity="0.6" filter="url(#bl2)"/>
<polygon points="800.0,803.0 799.8,803.8 799.1,804.2 798.0,804.6 796.4,804.9 794.4,805.1 791.9,805.3 788.8,805.4 784.8,805.5 778.0,805.5 771.2,805.5 767.2,805.4 764.1,805.3 761.6,805.1 759.6,804.9 758.0,804.6 756.9,804.2 756.2,803.8 756.0,803.0 756.2,802.2 756.9,801.8 758.0,801.4 759.6,801.1 761.6,800.9 764.1,800.7 767.2,800.6 771.2,800.5 778.0,800.5 784.8,800.5 788.8,800.6 791.9,800.7 794.4,800.9 796.4,801.1 798.0,801.4 799.1,801.8 799.8,802.2" fill="#444" opacity="0.35" filter="url(#bl2)"/>
<polygon points="953.0,800.5 952.2,803.4 949.7,805.0 945.5,806.3 939.7,807.4 932.2,808.2 922.8,808.9 911.4,809.4 896.9,809.7 871.5,809.8 846.1,809.7 831.6,809.4 820.2,808.9 810.8,808.2 803.3,807.4 797.5,806.3 793.3,805.0 790.8,803.4 790.0,800.5 790.8,797.6 793.3,796.0 797.5,794.7 803.3,793.6 810.8,792.8 820.2,792.1 831.6,791.6 846.1,791.3 871.5,791.2 896.9,791.3 911.4,791.6 922.8,792.1 932.2,792.8 939.7,793.6 945.5,794.7 949.7,796.0 952.2,797.6" fill="#101010" opacity="1" filter="url(#bl3)"/>
<polygon points="948.0,800.5 947.2,802.2 945.0,803.2 941.1,804.0 935.8,804.6 928.9,805.1 920.2,805.5 909.7,805.8 896.3,805.9 873.0,806.0 849.7,805.9 836.3,805.8 825.8,805.5 817.1,805.1 810.2,804.6 804.9,804.0 801.0,803.2 798.8,802.2 798.0,800.5 798.8,798.8 801.0,797.8 804.9,797.0 810.2,796.4 817.1,795.9 825.8,795.5 836.3,795.2 849.7,795.1 873.0,795.0 896.3,795.1 909.7,795.2 920.2,795.5 928.9,795.9 935.8,796.4 941.1,797.0 945.0,797.8 947.2,798.8" fill="#000" opacity="0.6" filter="url(#bl2)"/>
</g>
<text transform="translate(299.70,591.80) scale(1,1.1364)" font-family='"Liberation Mono", "DejaVu Sans Mono", monospace' font-size="29.33" font-weight="bold" text-anchor="middle" >A</text>
<text transform="translate(492.00,591.80) scale(1,1.1364)" font-family='"Liberation Mono", "DejaVu Sans Mono", monospace' font-size="29.33" font-weight="bold" text-anchor="middle" >B</text>
<text transform="translate(683.50,591.80) scale(1,1.1364)" font-family='"Liberation Mono", "DejaVu Sans Mono", monospace' font-size="29.33" font-weight="bold" text-anchor="middle" >C</text>
<text transform="translate(856.00,591.80) scale(1,1.1364)" font-family='"Liberation Mono", "DejaVu Sans Mono", monospace' font-size="29.33" font-weight="bold" text-anchor="middle" >D</text>
<text transform="translate(15.50,650.40) scale(1,1.0507)" font-family='"Liberation Mono", "DejaVu Sans Mono", monospace' font-size="29.42" font-weight="bold" text-anchor="start" xml:space="preserve">Collagen <tspan x="147" dy="2" font-family='"Noto Serif CJK SC", "Liberation Serif", serif' font-size="24" style="stroke-width:1.8px">Ⅰ</tspan></text>
<text transform="translate(35.00,795.00) scale(1,1.0507)" font-family='"Liberation Mono", "DejaVu Sans Mono", monospace' font-size="29.42" font-weight="bold" text-anchor="start" >β<tspan x="23.5">-actin</tspan></text>
<line x1="1171.00" y1="519.50" x2="1171.00" y2="848.00" stroke="#000" stroke-width="2"/>
<line x1="1170.00" y1="847.00" x2="1995.60" y2="847.00" stroke="#000" stroke-width="2"/>
<line x1="1171.00" y1="847.00" x2="1178.00" y2="847.00" stroke="#000" stroke-width="1.6"/>
<line x1="1171.00" y1="814.25" x2="1178.00" y2="814.25" stroke="#000" stroke-width="1.6"/>
<line x1="1171.00" y1="782.50" x2="1178.00" y2="782.50" stroke="#000" stroke-width="1.6"/>
<line x1="1171.00" y1="750.00" x2="1178.00" y2="750.00" stroke="#000" stroke-width="1.6"/>
<line x1="1171.00" y1="717.00" x2="1178.00" y2="717.00" stroke="#000" stroke-width="1.6"/>
<line x1="1171.00" y1="685.00" x2="1178.00" y2="685.00" stroke="#000" stroke-width="1.6"/>
<line x1="1171.00" y1="651.00" x2="1178.00" y2="651.00" stroke="#000" stroke-width="1.6"/>
<line x1="1171.00" y1="618.00" x2="1178.00" y2="618.00" stroke="#000" stroke-width="1.6"/>
<line x1="1171.00" y1="587.00" x2="1178.00" y2="587.00" stroke="#000" stroke-width="1.6"/>
<line x1="1171.00" y1="553.75" x2="1178.00" y2="553.75" stroke="#000" stroke-width="1.6"/>
<line x1="1171.00" y1="520.50" x2="1178.00" y2="520.50" stroke="#000" stroke-width="1.6"/>
<line x1="1377.50" y1="847.00" x2="1377.50" y2="840.00" stroke="#000" stroke-width="1.6"/>
<line x1="1582.20" y1="847.00" x2="1582.20" y2="840.00" stroke="#000" stroke-width="1.6"/>
<line x1="1787.60" y1="847.00" x2="1787.60" y2="840.00" stroke="#000" stroke-width="1.6"/>
<line x1="1994.60" y1="847.00" x2="1994.60" y2="840.00" stroke="#000" stroke-width="1.6"/>
<text transform="translate(1164.00,855.50) scale(1,1.0390)" font-family='"Liberation Mono", "DejaVu Sans Mono", monospace' font-size="20.42" font-weight="normal" text-anchor="end"  style="stroke-width:0.63px">0</text>
<text transform="translate(1164.00,822.75) scale(1,1.0390)" font-family='"Liberation Mono", "DejaVu Sans Mono", monospace' font-size="20.42" font-weight="normal" text-anchor="end"  style="stroke-width:0.63px">0.2</text>
<text transform="translate(1164.00,791.00) scale(1,1.0390)" font-family='"Liberation Mono", "DejaVu Sans Mono", monospace' font-size="20.42" font-weight="normal" text-anchor="end"  style="stroke-width:0.63px">0.4</text>
<text transform="translate(1164.00,758.50) scale(1,1.0390)" font-family='"Liberation Mono", "DejaVu Sans Mono", monospace' font-size="20.42" font-weight="normal" text-anchor="end"  style="stroke-width:0.63px">0.6</text>
<text transform="translate(1164.00,725.50) scale(1,1.0390)" font-family='"Liberation Mono", "DejaVu Sans Mono", monospace' font-size="20.42" font-weight="normal" text-anchor="end"  style="stroke-width:0.63px">0.8</text>
<text transform="translate(1164.00,693.50) scale(1,1.0390)" font-family='"Liberation Mono", "DejaVu Sans Mono", monospace' font-size="20.42" font-weight="normal" text-anchor="end"  style="stroke-width:0.63px">1</text>
<text transform="translate(1164.00,659.50) scale(1,1.0390)" font-family='"Liberation Mono", "DejaVu Sans Mono", monospace' font-size="20.42" font-weight="normal" text-anchor="end"  style="stroke-width:0.63px">1.2</text>
<text transform="translate(1164.00,626.50) scale(1,1.0390)" font-family='"Liberation Mono", "DejaVu Sans Mono", monospace' font-size="20.42" font-weight="normal" text-anchor="end"  style="stroke-width:0.63px">1.4</text>
<text transform="translate(1164.00,595.50) scale(1,1.0390)" font-family='"Liberation Mono", "DejaVu Sans Mono", monospace' font-size="20.42" font-weight="normal" text-anchor="end"  style="stroke-width:0.63px">1.6</text>
<text transform="translate(1164.00,562.25) scale(1,1.0390)" font-family='"Liberation Mono", "DejaVu Sans Mono", monospace' font-size="20.42" font-weight="normal" text-anchor="end"  style="stroke-width:0.63px">1.8</text>
<text transform="translate(1164.00,529.00) scale(1,1.0390)" font-family='"Liberation Mono", "DejaVu Sans Mono", monospace' font-size="20.42" font-weight="normal" text-anchor="end"  style="stroke-width:0.63px">2</text>
<line x1="1273.75" y1="800.50" x2="1273.75" y2="810.50" stroke="#000" stroke-width="1.8"/>
<line x1="1269.00" y1="800.50" x2="1278.50" y2="800.50" stroke="#000" stroke-width="1.8"/>
<rect x="1233.00" y="811.50" width="81.50" height="35.50" fill="#555555" stroke="#000" stroke-width="2"/>
<line x1="1479.90" y1="793.75" x2="1479.90" y2="806.00" stroke="#000" stroke-width="1.8"/>
<line x1="1475.15" y1="793.75" x2="1484.65" y2="793.75" stroke="#000" stroke-width="1.8"/>
<rect x="1438.50" y="807.00" width="82.80" height="40.00" fill="#555555" stroke="#000" stroke-width="2"/>
<line x1="1685.70" y1="560.20" x2="1685.70" y2="592.30" stroke="#000" stroke-width="1.8"/>
<line x1="1680.95" y1="560.20" x2="1690.45" y2="560.20" stroke="#000" stroke-width="1.8"/>
<rect x="1645.20" y="593.30" width="81.00" height="253.70" fill="#555555" stroke="#000" stroke-width="2"/>
<line x1="1890.80" y1="687.80" x2="1890.80" y2="708.00" stroke="#000" stroke-width="1.8"/>
<line x1="1886.05" y1="687.80" x2="1895.55" y2="687.80" stroke="#000" stroke-width="1.8"/>
<rect x="1850.60" y="709.00" width="80.40" height="138.00" fill="#555555" stroke="#000" stroke-width="2"/>
<text x="1686.40" y="552.50" font-family='"DejaVu Sans", "Liberation Sans", sans-serif' font-size="39" font-weight="bold" text-anchor="middle" style="stroke-width:1.2px">*</text>
<text transform="translate(1889.30,661.50) scale(1,1.1667)" font-family='"Liberation Mono", "DejaVu Sans Mono", monospace' font-size="41.67" font-weight="bold" text-anchor="middle" >#</text>
<text transform="translate(1254.50,876.50) scale(1,0.9971)" font-family='"Liberation Mono", "DejaVu Sans Mono", monospace' font-size="25.83" font-weight="normal" text-anchor="start"  style="stroke-width:0.80px">Con</text>
<text transform="translate(1451.00,876.50) scale(1,1.0372)" font-family='"Liberation Mono", "DejaVu Sans Mono", monospace' font-size="24.83" font-weight="normal" text-anchor="start"  style="stroke-width:0.77px">NaHS</text>
<text transform="translate(1637.90,876.50) scale(1,1.0035)" font-family='"Liberation Mono", "DejaVu Sans Mono", monospace' font-size="25.67" font-weight="normal" text-anchor="start"  style="stroke-width:0.80px">Fe-NTA</text>
<text transform="translate(1812.40,876.50) scale(1,0.9951)" font-family='"Liberation Mono", "DejaVu Sans Mono", monospace' font-size="25.88" font-weight="normal" text-anchor="start"  style="stroke-width:0.80px">Fe-NTA+NaHS</text>
<text transform="translate(1087.50,841.30) rotate(-90) scale(1,1.0660)" font-family='"Liberation Mono", "DejaVu Sans Mono", monospace' font-size="27.72" font-weight="normal" text-anchor="start"  style="stroke-width:0.86px">Relative expression</text>
</svg></body></html>
